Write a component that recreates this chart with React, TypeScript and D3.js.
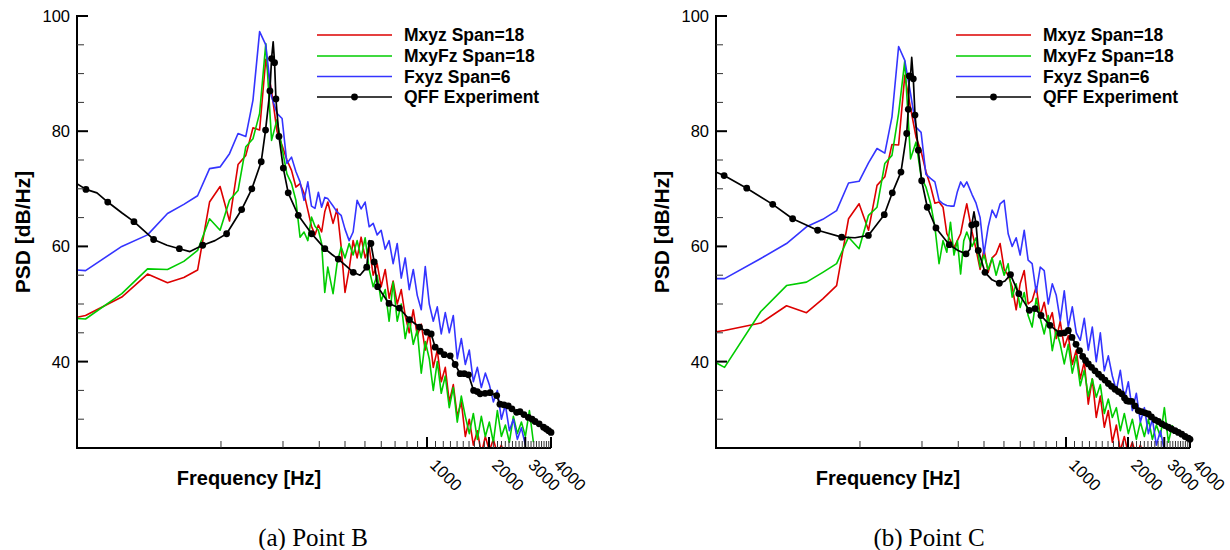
import React from "react";
import * as d3 from "d3";

// ---------- DATA ----------
// Shared frequency grid (Hz) of the three simulation series
const simFreq = [11, 22, 33, 44, 55, 66, 77, 88, 99, 110, 121, 132, 143, 154, 165, 176, 187, 198, 209, 220, 231, 242, 253, 264, 275, 286, 297, 308, 319, 330, 350, 366, 383, 400, 419, 438, 458, 479, 501, 524, 548, 573, 599, 627, 655, 685, 717, 750, 784, 820, 858, 897, 938, 981, 1026, 1073, 1122, 1173, 1227, 1283, 1342, 1403, 1468, 1535, 1605, 1679, 1756, 1836, 1920, 2008, 2100, 2196, 2297, 2402, 2512, 2627, 2747, 2873, 3004, 3142, 3286];

// Point B
const mxyzB = [45.8, 48.0, 51.2, 55.2, 53.7, 54.6, 55.9, 67.7, 70.4, 64.4, 74.2, 75.8, 80.6, 80.2, 92.5, 87, 80, 77.5, 75, 73.2, 70.3, 70.9, 69.2, 66.3, 63.5, 62, 63.7, 62.5, 66, 67.7, 64, 66.5, 60, 52, 56, 61, 58, 61.6, 58, 60, 55, 57, 53, 56, 51, 54, 50, 52.5, 48, 45, 49, 44.5, 46.5, 42, 45, 39, 42, 36.5, 39, 33, 36, 30.5, 33, 27, 30, 25.5, 28, 24, 27, 24.5, 26.5, 24, 25.5, 23];
const mxyFzB = [48.2, 47.4, 51.8, 56.1, 56.0, 57.4, 59.3, 64.8, 62.8, 68, 69.7, 77.3, 78.7, 83.1, 95.2, 78.4, 82, 77, 72.6, 70.9, 68, 61.6, 62.5, 61, 65.1, 63.5, 62.8, 60.5, 52, 56.4, 51.8, 57, 59.9, 58, 60.5, 58.5, 61, 58, 61.5, 56, 53, 55, 50.5, 52.5, 47, 53.8, 47, 50, 44, 47.5, 43, 45.5, 38, 43.5, 40.5, 35, 40, 34.5, 37.5, 32, 35.5, 29.5, 34, 30.5, 27.5, 31, 26.5, 30.5, 27, 29.5, 26, 31.5, 27, 29, 26, 30.5, 27.5, 29.5, 27, 31.5, 26];
const fxyzB = [56.5, 55.8, 60, 62, 65.7, 67.3, 68.8, 73.5, 73.8, 76.1, 79.6, 79.1, 85.4, 97.3, 95, 86, 83.1, 82.2, 74.4, 75.5, 73, 71.2, 68, 71.2, 67, 66.6, 69.4, 66.8, 68.5, 68.3, 67, 66, 65.4, 63, 61, 62.5, 68, 66.5, 67.7, 63.4, 64, 62, 62.8, 59.5, 61, 57, 60.5, 54.5, 58, 52.5, 56, 51.5, 49, 56.5, 50, 47, 49.5, 44.8, 48.5, 45, 48, 40.5, 44, 39.5, 42, 36.5, 39, 35.5, 38, 36, 33, 35, 30, 32.5, 28, 30, 26.5, 28.5, 25.5];
const expFreqB = [18, 22.1, 25.0, 28.2, 33.1, 37.8, 47.1, 54.7, 62.8, 70.7, 81.5, 93.5, 106.5, 126, 141.2, 156.8, 164.6, 172.8, 176.0, 179.2, 182.0, 184.8, 191.2, 200.7, 212, 237.2, 275.4, 295, 319.2, 345.8, 371, 404.8, 438.8, 473, 509.8, 524.6, 534.4, 554.4, 576, 654.2, 733.8, 821.4, 919.2, 999, 1048, 1096, 1159, 1212, 1296, 1370, 1448, 1516, 1590, 1684, 1754, 1812, 1916, 2026, 2180, 2260, 2364, 2480, 2584, 2724, 2828, 2956, 3104, 3236, 3348, 3504, 3680, 3794, 3896, 4000];
const expValB = [71.9, 69.9, 69.3, 67.7, 65.8, 64.3, 61.2, 60.2, 59.6, 59.1, 60.2, 61.0, 62.2, 66.4, 70, 74.7, 80.2, 87, 92.6, 95.5, 91.9, 85.6, 79.1, 73.6, 69.3, 65.4, 62.2, 61.0, 59.6, 58.6, 57.8, 56.6, 55.5, 55, 56.4, 61, 60.5, 57.3, 53, 50.1, 49.3, 47.3, 46.0, 45.1, 44.8, 42.5, 41.8, 41.2, 41.0, 39.5, 37.9, 37.9, 37.7, 35.0, 34.8, 34.4, 34.5, 34.6, 34.1, 32.6, 32.5, 32.3, 31.8, 31.2, 31.3, 30.8, 30.3, 30.0, 29.6, 29.2, 28.6, 28.3, 28.0, 27.7];
const expMarkB = [0, 1, 0, 1, 0, 1, 1, 0, 1, 0, 1, 0, 1, 1, 1, 1, 1, 1, 1, 0, 1, 1, 1, 1, 1, 1, 1, 0, 1, 0, 1, 0, 1, 0, 1, 0, 1, 1, 1, 1, 1, 1, 1, 1, 1, 1, 1, 1, 1, 1, 1, 1, 1, 1, 1, 1, 1, 1, 1, 1, 1, 1, 1, 1, 1, 1, 1, 1, 1, 1, 1, 1, 1, 1];

// Point C
const mxyzC = [43.9, 45.4, 46.7, 49.7, 48.5, 50.9, 53.2, 64.8, 67.4, 62.8, 70.6, 72.1, 77.7, 77.6, 89.7, 84, 79, 76.5, 73, 70.5, 67.5, 67.7, 66.8, 62.2, 61, 59.8, 61, 62.2, 65, 67.4, 62.5, 59.5, 56, 59.5, 55.5, 58, 58.7, 60.5, 56, 55, 53, 49, 53.5, 55.8, 50, 50.6, 53, 48, 50.3, 46.6, 48.5, 44, 47, 42.5, 44.5, 39.5, 42, 37, 40, 32.6, 37, 30.3, 34, 28.6, 31.5, 26, 29, 24.5, 27, 24, 26, 23.5, 25.5, 23];
const mxyFzC = [44.8, 39.0, 48.7, 53.2, 53.8, 55.5, 57, 61.6, 59.6, 65.4, 66.8, 74.4, 75.8, 83.1, 92.2, 75.2, 78.1, 72.1, 70.3, 67.5, 63.4, 57, 61, 59, 64.2, 58.5, 61, 55.2, 61, 62.5, 60, 61.5, 56.4, 58.5, 56, 58, 55, 57.5, 55, 57, 51.2, 53.5, 49.4, 52, 48, 46, 51, 47.5, 44.8, 48, 41.9, 45.5, 43, 39.6, 43, 38, 41, 35.8, 38.5, 34, 37, 33.8, 36, 31, 33.5, 30.3, 32, 28, 31, 27.5, 30, 26.5, 29.5, 27, 30, 26.5, 29, 27, 32, 26, 29];
const fxyzC = [54.4, 54.4, 57.9, 60.5, 63.4, 64.7, 66.2, 71, 71.3, 74.5, 77, 76.2, 82.5, 94.7, 92.3, 86.5, 80.7, 79.8, 72.5, 71.8, 71.2, 68, 67.4, 67.1, 67, 67, 69.5, 71.2, 70.3, 71.2, 69, 67.5, 65, 58.7, 63.4, 66.3, 65, 67.4, 68, 62.2, 60, 61.5, 58.5, 62.8, 57.6, 57, 52, 56.4, 55.8, 50, 53.5, 51.5, 47.1, 52.3, 46, 49.5, 45, 43.7, 47.5, 42, 46, 40, 45, 38.4, 41, 37.5, 35, 38.5, 33.5, 36.5, 31.5, 34.5, 29.5, 32, 27.5, 30, 25.5, 28, 24.5];
const expFreqC = [18, 21.9, 28.2, 37.7, 47.1, 62.3, 81.5, 94.6, 109.8, 131.2, 143.5, 158.1, 168.6, 171.6, 173.5, 175.9, 178.3, 181.5, 185, 191.9, 199.3, 212.2, 233.8, 271.4, 299.2, 327.2, 342, 348.6, 357.6, 365.8, 375.2, 404.4, 437.4, 474.6, 505.6, 537.8, 590.2, 663.8, 707.4, 756.4, 836.4, 935.4, 983.6, 1026.2, 1069.6, 1118.6, 1163.2, 1205.6, 1243.8, 1283.4, 1330, 1383.2, 1438.4, 1490.6, 1546.6, 1605, 1663.6, 1730, 1795, 1864, 1924, 1971, 2022, 2084, 2162, 2244, 2326, 2418, 2510, 2600, 2704, 2806, 2916, 3024, 3138, 3252, 3382, 3510, 3646, 3782, 3924, 4000];
const expValC = [73.6, 72.3, 70.1, 67.3, 64.8, 62.8, 61.6, 61.5, 61.9, 65.5, 69.3, 72.9, 79.6, 83.8, 89.6, 89.5, 92.8, 89.1, 82.8, 76.7, 71.4, 66.8, 63.2, 60.3, 59.3, 58.7, 59.5, 63.7, 66, 63.9, 59.3, 55.5, 54.2, 53.6, 54, 55.1, 51.8, 48.9, 49.2, 48, 46.3, 44.9, 45.0, 45.4, 44.2, 43, 41.9, 40.9, 40.2, 39.6, 39.0, 38.4, 37.8, 37.3, 36.8, 36.2, 35.7, 35.2, 34.8, 34.4, 33.7, 33.2, 33.1, 33.1, 32.3, 31.5, 31.3, 31.1, 30.9, 30.4, 29.9, 29.6, 29.2, 28.9, 28.6, 28.3, 28.0, 27.7, 27.4, 27.0, 26.7, 26.5];
const expMarkC = [0, 1, 1, 1, 1, 1, 1, 0, 1, 1, 1, 1, 1, 1, 1, 1, 0, 1, 1, 1, 1, 1, 1, 1, 0, 1, 0, 1, 0, 1, 1, 1, 0, 1, 0, 1, 1, 1, 1, 1, 1, 1, 1, 1, 1, 1, 1, 1, 1, 1, 1, 1, 1, 1, 1, 1, 1, 1, 1, 1, 1, 1, 1, 1, 1, 1, 1, 1, 1, 1, 1, 1, 1, 1, 1, 1, 1, 1, 1, 1, 1, 1];

const seriesNames = ["Mxyz Span=18", "MxyFz Span=18", "Fxyz Span=6", "QFF Experiment"];
const seriesColors = ["#dd0000", "#00cc00", "#3434ff", "#000000"];
const yMajor = [40, 60, 80, 100];
const yMinor = [30, 35, 45, 50, 55, 65, 70, 75, 85, 90, 95];
const xMajor = [1000, 2000, 3000, 4000];

const FONT = "'Liberation Sans', Arial, Helvetica, sans-serif";

type PanelProps = {
  id: string;
  x0: number;
  sims: number[][];
  expF: number[];
  expV: number[];
  expM: number[];
  caption: string;
  captionX: number;
};

function Panel({ id, x0, sims, expF, expV, expM, caption, captionX }: PanelProps) {
  const xs = d3.scaleLog().domain([20, 4000]).range([x0, x0 + 474]);
  const ys = d3.scaleLinear().domain([25, 100]).range([448, 16]);
  const line = d3
    .line<[number, number]>()
    .x((d) => xs(d[0]))
    .y((d) => ys(d[1]));
  const xMinor = d3.range(100, 4000, 100).filter((v) => v % 1000 !== 0);
  const expPts: [number, number][] = expF.map((f, i) => [f, expV[i]]);
  const clipId = "clip-" + id;
  const legX = x0 + 240;
  const legY = [35, 56, 76.5, 97];

  return (
    <g>
      <defs>
        <clipPath id={clipId}>
          <rect x={x0} y={16} width={474} height={432} />
        </clipPath>
      </defs>
      <g clipPath={`url(#${clipId})`}>
        {sims.map((vals, s) => (
          <path
            key={s}
            d={line(vals.map((v, i) => [simFreq[i], v] as [number, number])) || ""}
            fill="none"
            stroke={seriesColors[s]}
            strokeWidth={1.6}
            strokeLinejoin="round"
          />
        ))}
        <path d={line(expPts) || ""} fill="none" stroke="#000" strokeWidth={1.7} strokeLinejoin="round" />
      </g>
      {expPts.map((p, i) =>
        expM[i] ? <circle key={i} cx={xs(p[0])} cy={ys(p[1])} r={3.4} fill="#000" /> : null
      )}
      {/* axes */}
      <line x1={x0} y1={15} x2={x0} y2={449} stroke="#000" strokeWidth={2} />
      <line x1={x0 - 1} y1={448} x2={x0 + 474} y2={448} stroke="#000" strokeWidth={2} />
      {yMinor.map((v) => (
        <line key={"ym" + v} x1={x0} x2={x0 + 7} y1={ys(v)} y2={ys(v)} stroke="#333" strokeWidth={1} />
      ))}
      {yMajor.map((v) => (
        <g key={"yM" + v}>
          <line x1={x0} x2={x0 + 11} y1={ys(v)} y2={ys(v)} stroke="#000" strokeWidth={2} />
          <text x={x0 - 7} y={ys(v)} dy="0.36em" textAnchor="end" fontSize={16.5} fontFamily={FONT} fill="#000">
            {v}
          </text>
        </g>
      ))}
      {xMinor.map((v) => (
        <line key={"xm" + v} x1={xs(v)} x2={xs(v)} y1={448} y2={441} stroke="#333" strokeWidth={1} />
      ))}
      {xMajor.map((v) => (
        <g key={"xM" + v}>
          <line x1={xs(v)} x2={xs(v)} y1={448} y2={437} stroke="#000" strokeWidth={2} />
          <text
            transform={`translate(${xs(v) + 2},466) rotate(45)`}
            fontSize={16.5}
            fontFamily={FONT}
            fill="#000"
          >
            {v}
          </text>
        </g>
      ))}
      {/* axis titles */}
      <text x={x0 + 172} y={485} textAnchor="middle" fontSize={20} fontWeight="bold" fontFamily={FONT}>
        Frequency [Hz]
      </text>
      <text
        transform={`translate(${x0 - 47},232) rotate(-90)`}
        textAnchor="middle"
        fontSize={21}
        fontWeight="bold"
        fontFamily={FONT}
      >
        PSD [dB/Hz]
      </text>
      {/* legend */}
      {seriesNames.map((name, i) => (
        <g key={name}>
          <line x1={legX} x2={legX + 75} y1={legY[i]} y2={legY[i]} stroke={seriesColors[i]} strokeWidth={i === 3 ? 1.7 : 1.6} />
          {i === 3 ? <circle cx={legX + 37.5} cy={legY[i]} r={3.4} fill="#000" /> : null}
          <text x={legX + 87} y={legY[i]} dy="0.36em" fontSize={17.5} fontWeight="bold" fontFamily={FONT}>
            {name}
          </text>
        </g>
      ))}
      <text x={captionX} y={546} textAnchor="middle" fontSize={25} fontFamily="'Liberation Serif', 'Times New Roman', serif">
        {caption}
      </text>
    </g>
  );
}

export default function App() {
  return (
    <svg width={1230} height={550} style={{ position: "absolute", left: 0, top: 0, background: "#fff" }}>
      <rect x={0} y={0} width={1230} height={550} fill="#fff" />
      <Panel id="b" x0={77} sims={[mxyzB, mxyFzB, fxyzB]} expF={expFreqB} expV={expValB} expM={expMarkB} caption="(a) Point B" captionX={313} />
      <Panel id="c" x0={716} sims={[mxyzC, mxyFzC, fxyzC]} expF={expFreqC} expV={expValC} expM={expMarkC} caption="(b) Point C" captionX={929} />
    </svg>
  );
}
